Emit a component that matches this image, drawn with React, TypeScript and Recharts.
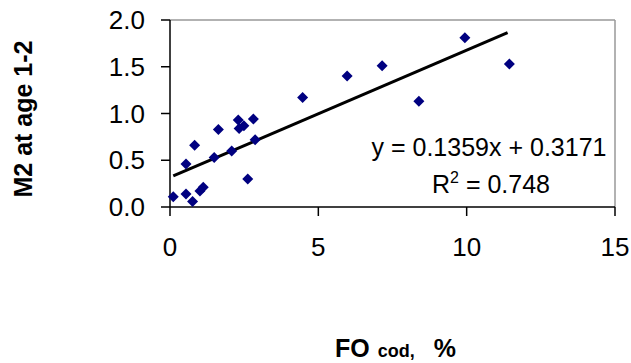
import React from "react";
import {
  ScatterChart,
  Scatter,
  XAxis,
  YAxis,
  ReferenceLine,
  Label,
  Customized,
} from "recharts";

const foCod = [0.11, 0.54, 0.76, 1.01, 1.12, 0.54, 0.83, 1.49, 1.63, 2.08, 2.3, 2.33, 2.49, 2.62, 2.81, 2.87, 4.47, 5.97, 7.15, 8.39, 9.94, 11.44];
const m2 = [0.11, 0.14, 0.06, 0.17, 0.21, 0.46, 0.66, 0.53, 0.83, 0.6, 0.93, 0.84, 0.87, 0.3, 0.94, 0.72, 1.17, 1.4, 1.51, 1.13, 1.81, 1.53];
const trendX = [0.11, 11.38];
const trendY = [0.332, 1.864];
const xTicks = [0, 5, 10, 15];
const yTicks = [0, 0.5, 1.0, 1.5, 2.0];
const equationText = "y = 0.1359x + 0.3171";
const r2Text = " = 0.748";

const points = foCod.map((x, i) => ({ x, y: m2[i] }));
const trend = trendX.map((x, i) => ({ x, y: trendY[i] }));

const FONT = "'Liberation Sans', Arial, sans-serif";

const Diamond = (props: any) => {
  const { cx, cy } = props;
  const r = 5.5;
  return (
    <polygon
      points={`${cx},${cy - r} ${cx + r},${cy} ${cx},${cy + r} ${cx - r},${cy}`}
      fill="#000080"
    />
  );
};

const Annotations = () => (
  <g fontFamily={FONT}>
    <text x={489} y={156} textAnchor="middle" fontSize={25} fill="#000">
      {equationText}
    </text>
    <text x={491} y={193} textAnchor="middle" fontSize={25} fill="#000">
      <tspan>R</tspan>
      <tspan dy={-10} fontSize={16}>2</tspan>
      <tspan dy={10}>{r2Text}</tspan>
    </text>
    <text
      x={32}
      y={119}
      transform="rotate(-90, 32, 119)"
      textAnchor="middle"
      fontSize={25}
      fontWeight="bold"
      fill="#000"
    >
      M2 at age 1-2
    </text>
    <text x={335} y={357} fontWeight="bold" fill="#000" fontSize={25}>
      <tspan>FO</tspan>
      <tspan fontSize={18} dx={8}>cod,</tspan>
      <tspan dx={19}>%</tspan>
    </text>
  </g>
);

export default function App() {
  return (
    <div style={{ position: "absolute", left: 0, top: 0, background: "#fff" }}>
      <ScatterChart
        width={631}
        height={363}
        margin={{ top: 20, right: 16, bottom: 96, left: 110 }}
      >
        <XAxis
          type="number"
          dataKey="x"
          domain={[0, 15]}
          ticks={xTicks}
          interval={0}
          height={60}
          tickSize={9}
          tickMargin={22}
          stroke="#000"
          tick={{ fill: "#000", fontSize: 26, fontFamily: FONT }}
          axisLine={{ stroke: "#000", strokeWidth: 1.5 }}
          tickLine={{ stroke: "#000", strokeWidth: 1.5 }}
        />
        <YAxis
          type="number"
          dataKey="y"
          domain={[0, 2]}
          ticks={yTicks}
          interval={0}
          width={60}
          tickSize={9}
          tickMargin={16}
          tickFormatter={(v: number) => v.toFixed(1)}
          tick={{ fill: "#000", fontSize: 26, fontFamily: FONT }}
          axisLine={{ stroke: "#000", strokeWidth: 1.5 }}
          tickLine={{ stroke: "#000", strokeWidth: 1.5 }}
        />
        <ReferenceLine y={2} stroke="#999" strokeWidth={1.5} />
        <ReferenceLine x={15} stroke="#999" strokeWidth={1.5} />
        <Scatter
          data={trend}
          line={{ stroke: "#000", strokeWidth: 3 }}
          shape={() => null}
          isAnimationActive={false}
        />
        <Scatter
          data={points}
          shape={<Diamond />}
          isAnimationActive={false}
        />
        <Customized component={Annotations} />
      </ScatterChart>
    </div>
  );
}
